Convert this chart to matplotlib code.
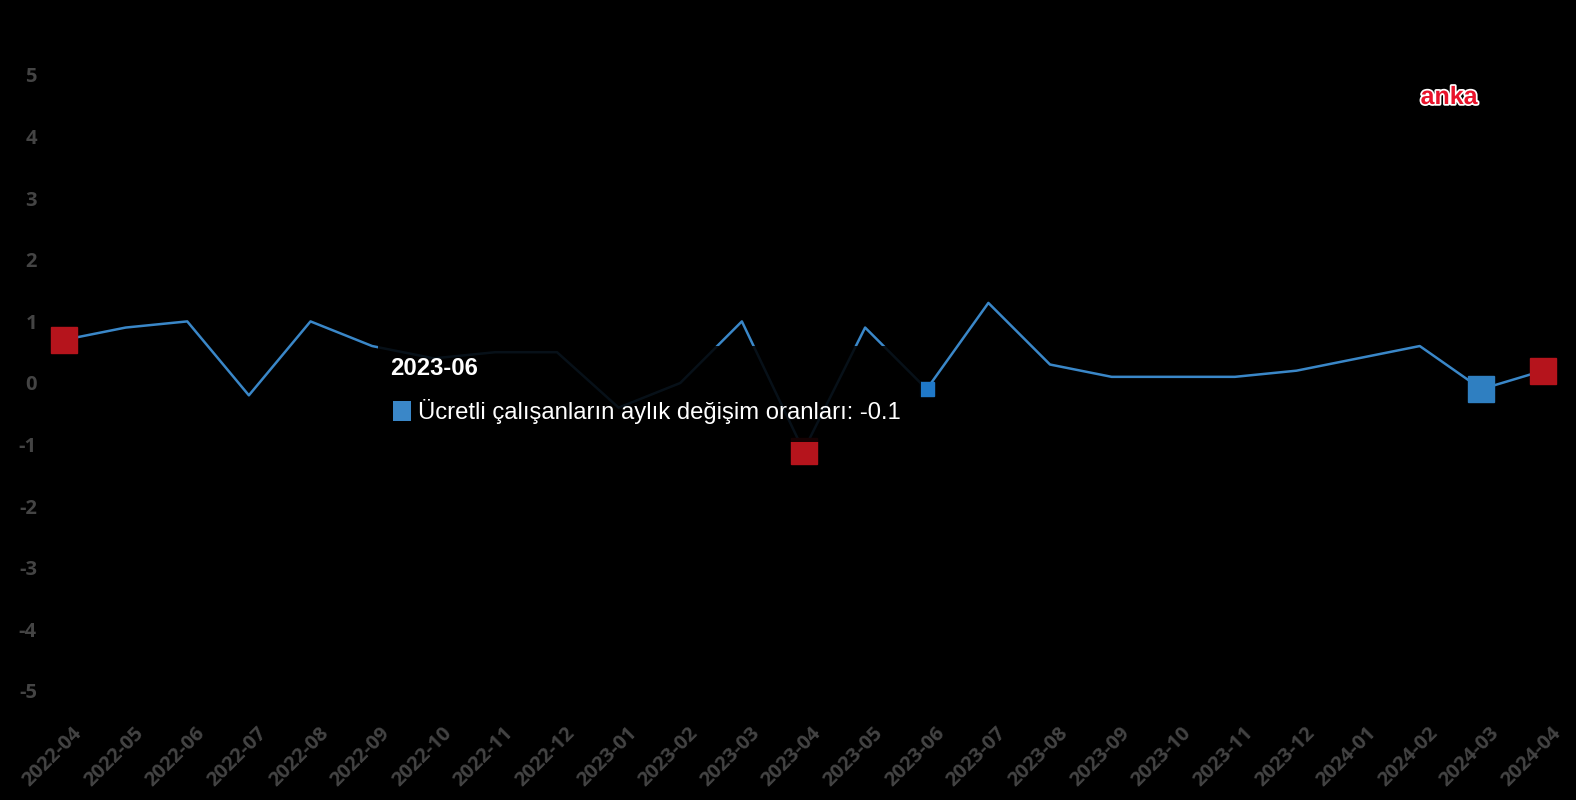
import matplotlib
matplotlib.use("Agg")
import matplotlib.pyplot as plt
import matplotlib.patheffects as pe
import matplotlib.transforms as mtransforms
from matplotlib.patches import Rectangle

# Ücretli çalışanların aylık değişim oranları (%)
aylar = ["2022-04", "2022-05", "2022-06", "2022-07", "2022-08", "2022-09",
         "2022-10", "2022-11", "2022-12", "2023-01", "2023-02", "2023-03",
         "2023-04", "2023-05", "2023-06", "2023-07", "2023-08", "2023-09",
         "2023-10", "2023-11", "2023-12", "2024-01", "2024-02", "2024-03",
         "2024-04"]
degerler = [0.7, 0.9, 1.0, -0.2, 1.0, 0.6, 0.4, 0.5, 0.5, -0.4, 0.0, 1.0,
            -1.1, 0.9, -0.1, 1.3, 0.3, 0.1, 0.1, 0.1, 0.2, 0.4, 0.6, -0.1, 0.2]
yticks = [5, 4, 3, 2, 1, 0, -1, -2, -3, -4, -5]

kirmizi_idx = [0, 12, 24]   # ilk, en düşük, son
mavi_idx = [23]
secili = 14                 # tooltip: 2023-06

mavi = "#3a87c8"
kirmizi = "#b5141c"
gri = "#444444"

fig = plt.figure(figsize=(15.76, 8), dpi=100, facecolor="black")
ax = fig.add_axes([64/1576, 1-691/800, (1543-64)/1576, (691-75)/800])
ax.set_facecolor("black")

x = list(range(len(aylar)))
ax.plot(x, degerler, color=mavi, lw=1.8, zorder=2)

for i in kirmizi_idx:
    ax.plot(x[i], degerler[i], marker="s", ms=19, color=kirmizi, mec=kirmizi,
            clip_on=False, zorder=4)
for i in mavi_idx:
    ax.plot(x[i], degerler[i], marker="s", ms=19, color="#2f7fc1", mec="#2f7fc1",
            clip_on=False, zorder=4)
ax.plot(x[secili], degerler[secili], marker="s", ms=10, color="#1f78c8",
        mec="#1f78c8", clip_on=False, zorder=4)

ax.set_xlim(0, len(aylar) - 1)
ax.set_ylim(-5, 5)
ax.set_yticks(yticks)
ax.set_yticklabels([str(v) for v in yticks], family="Open Sans",
                   fontweight="bold", fontsize=14.5, color=gri)
ax.set_xticks(x)
ax.set_xticklabels([])
ax.tick_params(axis="both", length=0)
ax.tick_params(axis="y", pad=19.5)
for s in ax.spines.values():
    s.set_visible(False)

# x etiketleri: 45 derece, tikin biraz sağında ve altında biter
kaydir = mtransforms.ScaledTranslation(15/100, -39/100, fig.dpi_scale_trans)
for i, ay in enumerate(aylar):
    ax.text(i, 0, ay, transform=ax.get_xaxis_transform() + kaydir,
            rotation=45, rotation_mode="anchor", ha="right", va="center",
            family="Open Sans", fontweight="bold", fontsize=14.5, color=gri,
            clip_on=False)

# tooltip
tip = Rectangle((378/1576, 1-442/800), (921-378)/1576, (442-346)/800,
                transform=fig.transFigure, facecolor="black", alpha=0.88,
                edgecolor="none", zorder=5)
fig.patches.append(tip)
fig.text(390/1576, 1-369/800, aylar[secili], color="white", fontsize=17.2,
         fontweight="bold", family="Liberation Sans", va="center", zorder=6)
fig.patches.append(Rectangle((393/1576, 1-421/800), 18/1576, 20/800,
                             transform=fig.transFigure, facecolor="#3a87c8",
                             edgecolor="none", zorder=6))
fig.text(418/1576, 1-411/800,
         "Ücretli çalışanların aylık değişim oranları: %s" % degerler[secili],
         color="white", fontsize=17.2, family="Liberation Sans", va="center",
         zorder=6)

# logo
fig.text(1449/1576, 1-97/800, "anka", color="#e8132b", fontsize=18,
         fontweight="bold", family="Liberation Sans", ha="center", va="center",
         path_effects=[pe.withStroke(linewidth=2.5, foreground="white")])

fig.savefig("out.png", dpi=100, facecolor="black")
